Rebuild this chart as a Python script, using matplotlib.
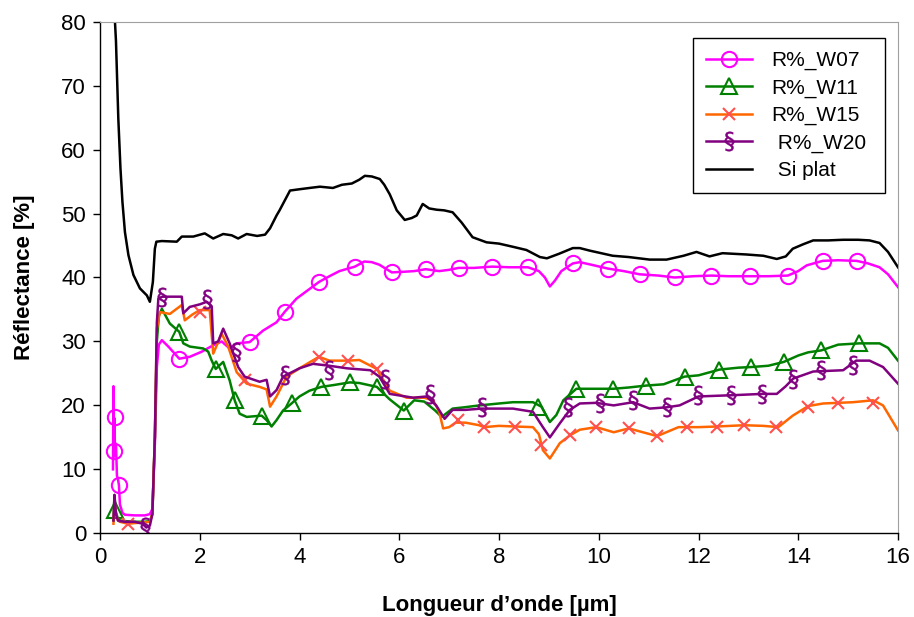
import matplotlib
matplotlib.use("Agg")
import matplotlib.pyplot as plt
from matplotlib.lines import Line2D

plt.rcParams['font.family'] = ['Liberation Sans', 'DejaVu Sans']
plt.rcParams['mathtext.fontset'] = 'dejavusans'

# ---- Si plat (black) ----
si_x = [0.30, 0.32, 0.367, 0.41, 0.45, 0.50, 0.57, 0.67, 0.80, 0.94, 1.00, 1.06, 1.10, 1.13, 1.24,
        1.54, 1.64, 1.87, 2.10, 2.27, 2.47, 2.64, 2.77, 2.94, 3.15, 3.31, 3.41, 3.54, 3.60, 3.81,
        4.0, 4.2, 4.41, 4.67, 4.85, 5.05, 5.2, 5.31, 5.45, 5.61, 5.7, 5.81, 5.95, 6.11, 6.25,
        6.35, 6.47, 6.6, 6.75, 6.9, 7.07, 7.25, 7.47, 7.75, 8.0, 8.28, 8.55, 8.82, 8.96, 9.2,
        9.48, 9.62, 9.82, 10.28, 10.6, 11.02, 11.36, 11.7, 11.96, 12.22, 12.48, 12.96, 13.3,
        13.57, 13.75, 13.89, 14.1, 14.3, 14.6, 14.9, 15.2, 15.43, 15.63, 15.8, 16.0]
si_y = [80, 77, 64.9, 57.1, 51.8, 47.1, 43.5, 40.4, 38.3, 37.2, 36.2, 39.3, 44.5, 45.6, 45.7,
        45.6, 46.4, 46.4, 46.9, 46.1, 46.8, 46.6, 46.1, 46.8, 46.5, 46.7, 47.7, 49.7, 50.5, 53.6,
        53.8, 54.0, 54.2, 54.0, 54.5, 54.7, 55.3, 55.9, 55.8, 55.4, 54.5, 53.0, 50.5, 49.0, 49.3,
        49.7, 51.5, 50.8, 50.6, 50.5, 50.2, 48.6, 46.3, 45.5, 45.3, 44.8, 44.3, 43.2, 43.0, 43.7,
        44.6, 44.6, 44.2, 43.4, 43.2, 42.8, 42.8, 43.4, 44.0, 43.3, 43.8, 43.6, 43.4,
        42.9, 43.3, 44.5, 45.2, 45.8, 45.8, 45.9, 45.9, 45.8, 45.4, 44.0, 41.6]

# ---- R%_W07 (magenta) ----
w07_x = [0.26, 0.27, 0.28, 0.29, 0.30, 0.32, 0.34, 0.36, 0.38, 0.40, 0.45, 0.5, 0.7, 0.9, 1.0,
         1.05, 1.10, 1.14, 1.18, 1.24, 1.37, 1.59, 1.8, 2.04, 2.27, 2.44, 2.6, 2.74, 3.0, 3.27,
         3.54, 3.7, 3.94, 4.2, 4.39, 4.6, 4.8, 5.11, 5.3, 5.45, 5.6, 5.85, 6.1, 6.3, 6.53, 6.8,
         7.0, 7.19, 7.5, 7.86, 8.2, 8.58, 8.8, 8.92, 9.02, 9.12, 9.25, 9.48, 9.62, 9.85, 10.18,
         10.5, 10.82, 11.2, 11.52, 11.9, 12.26, 12.6, 13.03, 13.4, 13.79, 14.0, 14.17, 14.49,
         14.8, 15.17, 15.4, 15.63, 15.8, 16.0]
w07_y = [10, 23, 12, 18, 13, 14, 9, 8.5, 7.5, 4.5, 3.2, 2.9, 2.8, 2.8, 3.0,
         3.8, 14, 26, 29.5, 30.2, 29.2, 27.3, 27.6, 28.4, 29.4, 30.0, 28.9, 29.7, 29.9, 31.7,
         33.0, 34.6, 36.7, 38.2, 39.3, 40.2, 41.0, 41.7, 42.5, 42.4, 42.0, 40.8, 40.9, 41.0, 41.3, 41.0,
         41.2, 41.5, 41.5, 41.7, 41.6, 41.6, 41.0, 40.0, 38.6, 39.5, 41.0, 42.2, 42.4, 42.0, 41.4,
         41.0, 40.5, 40.3, 40.0, 40.2, 40.3, 40.2, 40.2, 40.2, 40.3, 41.0, 41.9, 42.6,
         42.7, 42.6, 42.2, 41.6, 40.5, 38.5]
w07_mx = [0.28, 0.30, 0.38, 1.59, 3.0, 3.7, 4.39, 5.11, 5.85, 6.53, 7.19, 7.86, 8.58, 9.48,
          10.18, 10.82, 11.52, 12.26, 13.03, 13.79, 14.49, 15.17]
w07_my = [12.8, 18.2, 7.5, 27.3, 29.9, 34.6, 39.3, 41.7, 40.8, 41.3, 41.5, 41.7, 41.6, 42.2,
          41.4, 40.5, 40.0, 40.3, 40.2, 40.3, 42.6, 42.6]

# ---- R%_W11 (green) ----
w11_x = [0.27, 0.29, 0.31, 0.35, 0.4, 0.5, 0.7, 0.9, 1.0, 1.05, 1.10, 1.14, 1.18, 1.24, 1.4,
         1.59, 1.67, 1.8, 2.07, 2.17, 2.24, 2.32, 2.47, 2.6, 2.7, 2.8, 2.94, 3.24, 3.34, 3.44,
         3.54, 3.67, 3.84, 4.0, 4.2, 4.44, 4.7, 5.01, 5.2, 5.55, 5.8, 6.09, 6.3, 6.5, 6.72, 6.85,
         7.07, 7.3, 7.61, 8.0, 8.28, 8.68, 8.85, 9.02, 9.15, 9.29, 9.55, 9.9, 10.29, 10.6, 10.95,
         11.3, 11.72, 12.0, 12.42, 12.8, 13.06, 13.4, 13.71, 14.0, 14.2, 14.46, 14.8, 15.22,
         15.63, 15.8, 16.0]
w11_y = [2, 6, 3.6, 2.5, 2.0, 1.9, 1.8, 1.8, 1.9, 3, 15, 30, 34, 35.1, 32.8,
         31.5, 29.7, 29.2, 28.9, 28.4, 27, 25.7, 26.8, 23.9, 20.8, 18.7, 18.2, 18.4, 17.7, 16.7,
         17.7, 19.2, 20.3, 21.4, 22.3, 22.9, 23.2, 23.6, 23.5, 22.9, 21.0, 19.2, 20.8, 20.6, 19.2, 18.2,
         19.5, 19.7, 20.0, 20.3, 20.5, 20.5, 19.8, 17.4, 18.5, 20.8, 22.6, 22.6, 22.6, 22.8, 23.1,
         23.3, 24.5, 24.7, 25.6, 25.9, 26.0, 26.2, 26.8, 27.8, 28.3, 28.6, 29.5, 29.7,
         29.7, 29.0, 27.0]
w11_mx = [0.30, 1.59, 2.32, 2.7, 3.24, 3.84, 4.44, 5.01, 5.55, 6.09, 8.78, 9.55, 10.29, 10.95,
          11.72, 12.42, 13.06, 13.71, 14.46, 15.22]
w11_my = [3.6, 31.5, 25.7, 20.8, 18.4, 20.3, 22.9, 23.6, 22.9, 19.2, 19.7, 22.6, 22.6, 23.1,
          24.5, 25.6, 26.0, 26.8, 28.6, 29.7]

# ---- R%_W15 (orange) ----
w15_x = [0.27, 0.29, 0.32, 0.36, 0.4, 0.5, 0.57, 0.7, 0.9, 1.0, 1.05, 1.10, 1.14, 1.2, 1.4,
         1.64, 1.7, 1.85, 2.0, 2.2, 2.27, 2.44, 2.57, 2.74, 2.94, 3.2, 3.34, 3.41, 3.54, 3.74,
         4.0, 4.39, 4.6, 4.98, 5.2, 5.55, 5.81, 6.15, 6.5, 6.68, 6.8, 6.88, 7.0, 7.13, 7.33, 7.6,
         7.7, 8.0, 8.32, 8.68, 8.8, 8.88, 9.02, 9.22, 9.42, 9.62, 9.95, 10.3, 10.6, 11.17, 11.6,
         12.0, 12.37, 12.91, 13.3, 13.6, 13.89, 14.2, 14.5, 14.8, 15.1, 15.5, 15.7, 16.0]
w15_y = [1.5, 5, 3, 2, 1.8, 1.6, 1.5, 1.6, 1.7, 1.8, 3, 15, 32, 34.6, 34.3,
         35.7, 33.3, 34.2, 34.9, 34.9, 28.1, 31.2, 29.2, 25.2, 23.4, 22.9, 22.5, 19.8, 21.4, 24.5,
         25.8, 27.6, 27.0, 27.0, 27.1, 25.7, 22.3, 21.2, 21.2, 20.8, 19.0, 16.4, 16.6, 17.3, 17.3, 16.9,
         16.6, 16.8, 16.7, 16.6, 15.5, 13, 11.7, 14.1, 15.3, 16.2, 16.6, 15.8, 16.4, 15.2, 16.6,
         16.6, 16.7, 16.9, 16.8, 16.6, 18.4, 19.9, 20.3, 20.4, 20.5, 20.8, 20.0, 16.1]
w15_mx = [0.57, 2.0, 2.9, 4.39, 4.98, 5.55, 7.18, 7.7, 8.32, 8.85, 9.42, 9.95, 10.6, 11.17,
          11.76, 12.37, 12.91, 13.55, 14.2, 14.8, 15.49]
w15_my = [1.5, 34.6, 23.9, 27.6, 27.0, 25.7, 17.7, 16.6, 16.7, 13.75, 15.3, 16.6, 16.4, 15.2,
          16.6, 16.7, 16.9, 16.6, 19.7, 20.4, 20.4]

# ---- R%_W20 (purple) ----
w20_x = [0.27, 0.29, 0.32, 0.36, 0.4, 0.5, 0.7, 0.85, 0.93, 1.0, 1.05, 1.10, 1.14, 1.17, 1.25,
         1.45, 1.64, 1.67, 1.8, 2.0, 2.14, 2.24, 2.27, 2.37, 2.47, 2.6, 2.77, 2.9, 3.2, 3.34,
         3.41, 3.54, 3.67, 4.0, 4.27, 4.6, 4.95, 5.42, 5.6, 5.81, 6.28, 6.55, 6.74, 6.91, 7.07,
         7.33, 7.65, 8.28, 8.68, 8.88, 9.02, 9.22, 9.42, 9.62, 9.95, 10.3, 10.69, 11.02, 11.36,
         11.62, 12.0, 12.7, 13.28, 13.57, 13.75, 13.9, 14.3, 14.9, 15.16, 15.43, 15.7, 16.0]
w20_y = [2, 6, 3, 2, 1.9, 1.8, 1.8, 1.5, 0.9, 1.2, 3, 15, 33, 36.7, 37,
         37, 37, 34.4, 35.4, 35.8, 36.2, 35.5, 29.7, 30, 32, 29.7, 26, 24.5, 23.7, 24,
         21.4, 22.4, 24.5, 25.8, 26.5, 26.2, 25.8, 25.5, 24.5, 21.8, 21.2, 21.4, 20.0, 17.9, 19.3,
         19.3, 19.5, 19.5, 19.0, 16.6, 15.0, 17.2, 19.3, 20.3, 20.4, 20.0, 20.5, 19.5, 19.7,
         20.0, 21.4, 21.6, 21.8, 21.8, 23.0, 24.2, 25.3, 25.5, 27.0, 27.0, 26.0, 23.4]
w20_mx = [0.9, 1.25, 2.15, 2.72, 3.7, 4.6, 5.71, 6.61, 7.65, 9.38, 10.02, 10.69, 11.36, 11.99,
          12.66, 13.28, 13.9, 14.46, 15.1]
w20_my = [1.0, 37, 36.7, 28.4, 24.7, 25.5, 24.2, 21.8, 19.7, 19.7, 20.3, 20.8, 19.7, 21.6,
          21.6, 21.8, 24.2, 25.5, 26.3]

x_ticks = [0, 2, 4, 6, 8, 10, 12, 14, 16]
y_ticks = [0, 10, 20, 30, 40, 50, 60, 70, 80]
labels = ["R%_W07", "R%_W11", "R%_W15", " R%_W20", " Si plat"]

C07, C11, C15, C15M, C20 = "#FF00FF", "#008000", "#FF6600", "#FF5050", "#800080"
SECT = r"$\S$"

fig = plt.figure(figsize=(9.14, 6.17), dpi=100)
ax = fig.add_axes([100 / 914, 1 - 533.3 / 617, 798 / 914, 511.6 / 617])

lw = 1.8
ax.plot(w07_x, w07_y, color=C07, lw=lw)
ax.plot(w07_mx, w07_my, ls="none", marker="o", ms=11, mfc="none", mec=C07, mew=1.5)
ax.plot(w11_x, w11_y, color=C11, lw=lw)
ax.plot(w11_mx, w11_my, ls="none", marker="^", ms=11, mfc="none", mec=C11, mew=1.5)
ax.plot(w15_x, w15_y, color=C15, lw=lw)
ax.plot(w15_mx, w15_my, ls="none", marker="x", ms=8, mec=C15M, mew=1.5)
ax.plot(w20_x, w20_y, color=C20, lw=lw)
ax.plot(w20_mx, w20_my, ls="none", marker=SECT, ms=14, mfc=C20, mec=C20, mew=0.3)
ax.plot(si_x, si_y, color="black", lw=lw)

ax.set_xlim(0, 16)
ax.set_ylim(0, 80)
ax.set_xticks(x_ticks)
ax.set_yticks(y_ticks)
ax.tick_params(direction="out", length=5, width=1, labelsize=16, pad=5)
for s in ("top", "right"):
    ax.spines[s].set_color("#A0A0A0")
    ax.spines[s].set_linewidth(0.8)
for s in ("left", "bottom"):
    ax.spines[s].set_linewidth(1.0)

ax.set_xlabel("Longueur d\u2019onde [\u00b5m]", fontsize=16, fontweight="bold", labelpad=19)
ax.set_ylabel("R\u00e9flectance [%]", fontsize=16, fontweight="bold", labelpad=19)

handles = [
    Line2D([], [], color=C07, lw=lw, marker="o", ms=11, mfc="none", mec=C07, mew=1.5),
    Line2D([], [], color=C11, lw=lw, marker="^", ms=11, mfc="none", mec=C11, mew=1.5),
    Line2D([], [], color=C15, lw=lw, marker="x", ms=8, mec=C15M, mew=1.5),
    Line2D([], [], color=C20, lw=lw, marker=SECT, ms=14, mfc=C20, mec=C20, mew=0.3),
    Line2D([], [], color="black", lw=lw),
]
x0 = (693 - 100) / 798
y1 = (533.3 - 38) / 511.6
y0 = (533.3 - 192) / 511.6
x1 = (885 - 100) / 798
leg = ax.legend(handles, labels, loc="upper left", bbox_to_anchor=(x0, y0, x1 - x0, y1 - y0),
                mode="expand", fontsize=15, frameon=True, fancybox=False, edgecolor="black",
                framealpha=1, borderpad=0.62, labelspacing=0.40, handlelength=2.2,
                handletextpad=0.95, borderaxespad=0)
leg.get_frame().set_linewidth(1.0)

fig.savefig("out.png", dpi=100)
